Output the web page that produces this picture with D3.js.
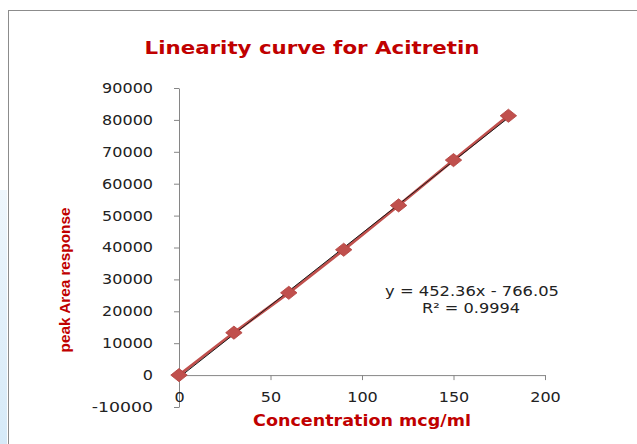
<!DOCTYPE html>
<html><head><meta charset="utf-8">
<script src="https://cdn.jsdelivr.net/npm/d3@7"></script>
<style>body{margin:0;background:#fff;}svg{display:block;}</style>
</head><body>
<script>
const concentrations = [0, 30, 60, 90, 120, 150, 180];
const peakAreas = [0, 13300, 25800, 39300, 53200, 67400, 81300];
const slope = 452.36, intercept = -766.05;
const xTicks = [0, 50, 100, 150, 200];
const yTicks = [-10000, 0, 10000, 20000, 30000, 40000, 50000, 60000, 70000, 80000, 90000];
const titleText = "Linearity curve for Acitretin";
const xLabel = "Concentration mcg/ml";
const yLabel = "peak Area response";
const eqText = "y = 452.36x - 766.05";
const r2Text = "R\u00B2 = 0.9994";

const W = 637, H = 444;
const svg = d3.select("body").append("svg").attr("width", W).attr("height", H);

// horizontally fit a text element to a target width (keeps glyph height)
function fitX(sel, target, extra) {
  sel.each(function(d) {
    const t = d3.select(this);
    const n = this.getComputedTextLength();
    const w = typeof target === "function" ? target(d) : target;
    const s = n > 0 ? w / n : 1;
    const x = +t.attr("x") || 0;
    t.attr("transform", (extra || "") + `translate(${x},0) scale(${s},1) translate(${-x},0)`);
  });
}

// left watermark fragment
const grad = svg.append("defs").append("linearGradient").attr("id","wm").attr("x1",0).attr("x2",0).attr("y1",0).attr("y2",1);
grad.append("stop").attr("offset","0").attr("stop-color","#eef6fc");
grad.append("stop").attr("offset","1").attr("stop-color","#d6eaf8");
svg.append("rect").attr("x",0).attr("y",190).attr("width",7).attr("height",254).attr("fill","url(#wm)");

// chart border
svg.append("rect").attr("x",8.5).attr("y",10.5).attr("width",W).attr("height",H)
  .attr("fill","#fff").attr("stroke","#8c8c8c").attr("stroke-width",1);

const x = d3.scaleLinear().domain([0,200]).range([179,545]);
const y = d3.scaleLinear().domain([-10000,90000]).range([407,88]);

const axisColor = "#868686";
const font = "'DejaVu Sans', Verdana, sans-serif";

// Y axis
const yAxis = d3.axisLeft(y).tickValues(yTicks).tickSize(5).tickSizeOuter(0).tickPadding(21)
  .tickFormat(d => String(d));
const gy = svg.append("g").attr("transform",`translate(${x(0)},0)`).call(yAxis);
gy.select(".domain").attr("stroke",axisColor);
gy.selectAll(".tick line").attr("stroke",axisColor);
gy.selectAll(".tick text").attr("fill","#222").style("font-family",font).style("font-size","14px");
fitX(gy.selectAll(".tick text"), d => String(d).length * 10.2);

// X axis at y=0
const xAxis = d3.axisBottom(x).tickValues(xTicks).tickSize(5).tickSizeOuter(0).tickPadding(12)
  .tickFormat(d => String(d));
const gx = svg.append("g").attr("transform",`translate(0,${y(0)})`).call(xAxis);
gx.select(".domain").attr("stroke",axisColor);
gx.selectAll(".tick line").attr("stroke",axisColor);
gx.selectAll(".tick text").attr("fill","#222").style("font-family",font).style("font-size","14px");
fitX(gx.selectAll(".tick text"), d => String(d).length * 10.2);

// data line
const pts = concentrations.map((c,i)=>[c,peakAreas[i]]);
svg.append("path").datum(pts)
  .attr("d", d3.line().x(d=>x(d[0])).y(d=>y(d[1])))
  .attr("fill","none").attr("stroke","#c0504d").attr("stroke-width",3);

// trendline
const tl = [[concentrations[0], slope*concentrations[0]+intercept],[concentrations[concentrations.length-1], slope*concentrations[concentrations.length-1]+intercept]];
svg.append("path").datum(tl)
  .attr("d", d3.line().x(d=>x(d[0])).y(d=>y(d[1])))
  .attr("fill","none").attr("stroke","#1a1a1a").attr("stroke-width",1);

// markers
svg.selectAll(".m").data(pts).enter().append("path")
  .attr("transform", d=>`translate(${x(d[0])},${y(d[1])}) scale(1.15,0.92)`)
  .attr("d", d3.symbol().type(d3.symbolDiamond2).size(130))
  .attr("fill","#c0504d").attr("stroke","#b3403d").attr("stroke-width",0.8);

// title
const title = svg.append("text").attr("x",312).attr("y",54).attr("text-anchor","middle")
  .style("font-family",font).style("font-weight","bold").style("font-size","18.5px")
  .attr("fill","#c00000").text(titleText);
fitX(title, 335);

// x label
const xl = svg.append("text").attr("x",362).attr("y",426).attr("text-anchor","middle")
  .style("font-family",font).style("font-weight","bold").style("font-size","15.5px")
  .attr("fill","#c00000").text(xLabel);
fitX(xl, 218);

// y label
const yl = svg.append("text").attr("x",0).attr("y",0).attr("text-anchor","middle")
  .style("font-family","'Liberation Sans', Arial, sans-serif").style("font-weight","bold").style("font-size","15px")
  .attr("fill","#c00000").text(yLabel);
fitX(yl, 145, "translate(70,280) rotate(-90) ");

// equation
const eq = svg.append("text").attr("x",472).attr("y",296).attr("text-anchor","middle")
  .style("font-family",font).style("font-size","14px")
  .attr("fill","#222").text(eqText);
fitX(eq, 174);
const r2 = svg.append("text").attr("x",471).attr("y",313).attr("text-anchor","middle")
  .style("font-family",font).style("font-size","14px")
  .attr("fill","#222").text(r2Text);
fitX(r2, 98);
</script>
</body></html>
